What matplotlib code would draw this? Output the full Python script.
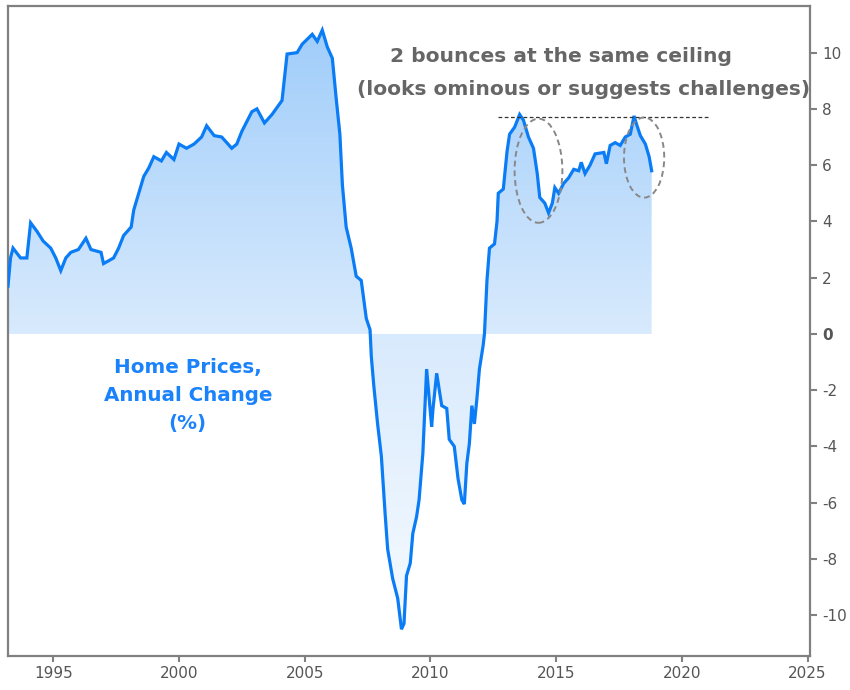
import numpy as np
import matplotlib.pyplot as plt
from matplotlib.patches import Ellipse
from matplotlib.colors import LinearSegmentedColormap
plt.switch_backend('agg')

# home prices, annual change (%)
years = [1993.2, 1993.3, 1993.4, 1993.7, 1993.95, 1994.1, 1994.35, 1994.6, 1994.9, 1995.1,
         1995.3, 1995.5, 1995.7, 1996.0, 1996.3, 1996.5, 1996.9, 1997.0, 1997.4, 1997.6,
         1997.8, 1998.1, 1998.2, 1998.4, 1998.6, 1998.8, 1999.0, 1999.3, 1999.5, 1999.8,
         2000.0, 2000.3, 2000.6, 2000.9, 2001.1, 2001.4, 2001.7, 2002.1, 2002.3, 2002.5,
         2002.9, 2003.1, 2003.4, 2003.7, 2003.9, 2004.1, 2004.3, 2004.7, 2004.9, 2005.3,
         2005.5, 2005.7, 2005.9, 2006.1, 2006.25, 2006.4, 2006.5, 2006.65, 2006.85, 2007.05,
         2007.25, 2007.45, 2007.6, 2007.65, 2007.75, 2007.9, 2008.05, 2008.2, 2008.3, 2008.5,
         2008.7, 2008.85, 2008.95, 2009.05, 2009.2, 2009.3, 2009.45, 2009.55, 2009.7, 2009.85,
         2010.05, 2010.1, 2010.25, 2010.45, 2010.65, 2010.75, 2010.95, 2011.1, 2011.25, 2011.35,
         2011.45, 2011.55, 2011.65, 2011.75, 2011.85, 2011.95, 2012.1, 2012.15, 2012.25, 2012.35,
         2012.55, 2012.65, 2012.7, 2012.9, 2013.05, 2013.15, 2013.35, 2013.55, 2013.7, 2013.9,
         2014.1, 2014.25, 2014.35, 2014.55, 2014.7, 2014.85, 2014.95, 2015.1, 2015.3, 2015.5,
         2015.7, 2015.9, 2016.0, 2016.15, 2016.35, 2016.55, 2016.9, 2017.0, 2017.15, 2017.35,
         2017.55, 2017.75, 2017.95, 2018.1, 2018.2, 2018.35, 2018.55, 2018.7, 2018.8]
values = [1.7, 2.7, 3.05, 2.7, 2.7, 3.95, 3.65, 3.3, 3.05, 2.7,
          2.25, 2.7, 2.9, 3.0, 3.4, 3.0, 2.9, 2.5, 2.7, 3.05,
          3.5, 3.8, 4.4, 5.0, 5.6, 5.9, 6.3, 6.15, 6.45, 6.2,
          6.75, 6.6, 6.75, 7.0, 7.4, 7.05, 7.0, 6.6, 6.75, 7.2,
          7.9, 8.0, 7.5, 7.8, 8.05, 8.3, 9.95, 10.0, 10.3, 10.65,
          10.4, 10.8, 10.2, 9.8, 8.4, 7.1, 5.3, 3.8, 3.05, 2.05,
          1.9, 0.55, 0.15, -0.8, -1.85, -3.2, -4.35, -6.4, -7.65, -8.7,
          -9.4, -10.5, -10.3, -8.6, -8.15, -7.1, -6.5, -5.9, -4.25, -1.25,
          -3.3, -2.7, -1.4, -2.55, -2.65, -3.75, -4.0, -5.15, -5.9, -6.05,
          -4.6, -3.9, -2.55, -3.2, -2.3, -1.25, -0.4, 0.0, 1.9, 3.05,
          3.2, 4.0, 5.0, 5.15, 6.5, 7.1, 7.35, 7.8, 7.6, 7.0,
          6.6, 5.7, 4.85, 4.65, 4.3, 4.65, 5.2, 5.0, 5.35, 5.55,
          5.85, 5.8, 6.1, 5.7, 6.0, 6.4, 6.45, 6.05, 6.7, 6.8,
          6.7, 7.0, 7.1, 7.75, 7.45, 7.05, 6.75, 6.3, 5.8]

x_ticks = [1995, 2000, 2005, 2010, 2015, 2020, 2025]
y_ticks = [-10, -8, -6, -4, -2, 0, 2, 4, 6, 8, 10]

ceiling = 7.72
ceiling_span = (2012.7, 2021.1)
# (center x, center y, width, height) of the two dashed ellipses
bounces = [(2014.3, 5.8, 1.9, 3.7), (2018.5, 6.27, 1.6, 2.85)]

line_color = '#0a7cf5'
axis_color = '#808080'
label_color = '#555555'

fig = plt.figure(figsize=(8.5, 6.9), dpi=100)
ax = fig.add_axes([0.0094, 0.0493, 0.9436, 0.9417])
ax.set_xlim(1993.2, 2025.1)
ax.set_ylim(-11.45, 11.65)

# gradient fill between the series and zero, clipped to the fill polygon
fill = ax.fill_between(years, values, 0, color='none', lw=0)
cmap = LinearSegmentedColormap.from_list('grad', ['#f9fcff', '#d8eafd', '#9ccbfa'])
grad = np.linspace(0, 1, 256).reshape(-1, 1)
img = ax.imshow(grad, cmap=cmap, origin='lower', aspect='auto',
                extent=[1993.2, 2025.1, -11.45, 11.65], zorder=1)
img.set_clip_path(fill.get_paths()[0], transform=ax.transData)

ax.plot(years, values, color=line_color, lw=2.3, zorder=3, solid_joinstyle='miter')

ax.hlines(ceiling, ceiling_span[0], ceiling_span[1], colors='#333333',
          linestyles=(0, (3, 2)), lw=0.9, zorder=4)
for cx, cy, w, h in bounces:
    ax.add_patch(Ellipse((cx, cy), w, h, fill=False, ec='#888888', lw=1.4,
                         ls=(0, (3, 2)), zorder=4))

ax.text(2015.2, 9.85, '2 bounces at the same ceiling', ha='center', va='center',
        fontsize=14.6, fontweight='bold', color='#666666')
ax.text(2016.1, 8.7, '(looks ominous or suggests challenges)', ha='center', va='center',
        fontsize=14.6, fontweight='bold', color='#666666')
ax.text(2000.35, -2.2, 'Home Prices,\nAnnual Change\n(%)', ha='center', va='center',
        fontsize=14.3, fontweight='bold', color='#1a82fb', linespacing=1.6)

# axis styling: y on the right, gray frame
ax.yaxis.tick_right()
ax.set_xticks(x_ticks)
ax.set_yticks(y_ticks)
ax.set_xticklabels([str(t) for t in x_ticks])
ax.set_yticklabels([str(t) for t in y_ticks])
ax.tick_params(axis='both', colors=axis_color, labelcolor=label_color,
               labelsize=11, length=5, width=1.5)
ax.tick_params(axis='x', length=4)
for lbl in ax.get_yticklabels():
    if lbl.get_text() == '0':
        lbl.set_fontweight('bold')
for s in ax.spines.values():
    s.set_color(axis_color)
    s.set_linewidth(1.6)

fig.savefig('out.png', dpi=100)
